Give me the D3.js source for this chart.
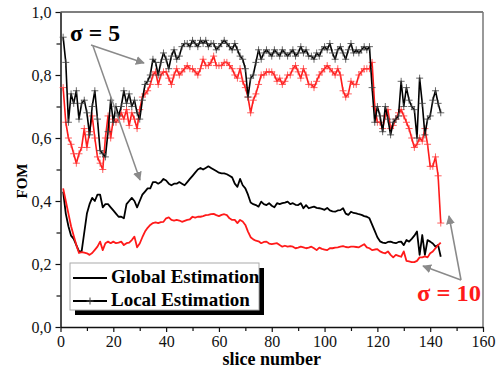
<!DOCTYPE html>
<html><head><meta charset="utf-8">
<script src="https://cdn.jsdelivr.net/npm/d3@7"></script>
<style>
html,body{margin:0;padding:0;background:#fff;}
svg{display:block;}
</style></head>
<body>
<svg id="chart" width="498" height="371"></svg>
<script>
// ---- data ----
const slices = d3.range(1, 145);
const localSigma5 = [0.92,0.84,0.65,0.74,0.71,0.75,0.66,0.71,0.72,0.68,0.61,0.70,0.75,0.66,0.56,0.55,0.54,0.62,0.72,0.65,
0.70,0.67,0.70,0.75,0.71,0.74,0.70,0.72,0.68,0.66,0.72,0.77,0.78,0.80,0.85,0.84,0.80,0.84,0.87,0.85,
0.82,0.86,0.88,0.85,0.86,0.89,0.90,0.90,0.89,0.91,0.90,0.89,0.91,0.90,0.91,0.89,0.90,0.90,0.88,0.89,
0.90,0.91,0.90,0.89,0.88,0.90,0.88,0.86,0.85,0.82,0.73,0.79,0.80,0.84,0.88,0.85,0.87,0.88,0.87,0.86,
0.88,0.87,0.86,0.88,0.87,0.86,0.87,0.88,0.86,0.87,0.89,0.87,0.88,0.86,0.86,0.85,0.87,0.86,0.88,0.89,
0.88,0.90,0.87,0.85,0.88,0.89,0.87,0.85,0.88,0.90,0.87,0.88,0.87,0.88,0.89,0.88,0.89,0.76,0.65,0.70,
0.67,0.62,0.70,0.66,0.61,0.65,0.66,0.67,0.78,0.70,0.76,0.72,0.70,0.69,0.60,0.79,0.71,0.61,0.66,0.67,
0.72,0.75,0.71,0.68];
const localSigma10 = [0.76,0.65,0.60,0.58,0.55,0.52,0.55,0.57,0.63,0.57,0.62,0.67,0.60,0.54,0.52,0.50,0.60,0.67,0.60,0.66,
0.65,0.66,0.68,0.66,0.69,0.64,0.68,0.66,0.63,0.69,0.73,0.74,0.75,0.77,0.80,0.81,0.77,0.80,0.81,0.81,
0.79,0.77,0.80,0.82,0.80,0.81,0.82,0.83,0.82,0.82,0.81,0.80,0.82,0.85,0.83,0.83,0.84,0.86,0.83,0.83,
0.83,0.84,0.84,0.83,0.82,0.80,0.79,0.82,0.78,0.76,0.73,0.68,0.72,0.74,0.77,0.80,0.80,0.81,0.81,0.81,
0.80,0.78,0.79,0.77,0.78,0.80,0.80,0.82,0.83,0.81,0.79,0.82,0.80,0.77,0.77,0.76,0.78,0.80,0.81,0.82,
0.83,0.82,0.81,0.80,0.82,0.80,0.75,0.73,0.74,0.78,0.77,0.77,0.80,0.81,0.82,0.82,0.82,0.84,0.70,0.65,
0.65,0.63,0.67,0.69,0.63,0.64,0.66,0.68,0.69,0.67,0.65,0.63,0.60,0.57,0.58,0.60,0.59,0.63,0.58,0.51,
0.51,0.54,0.48,0.33];
const globalSigma5 = [0.43,0.36,0.32,0.29,0.28,0.26,0.24,0.24,0.30,0.36,0.39,0.41,0.40,0.42,0.42,0.38,0.39,0.39,0.38,0.37,
0.36,0.35,0.35,0.345,0.39,0.40,0.41,0.40,0.38,0.40,0.42,0.43,0.44,0.44,0.46,0.46,0.455,0.46,0.47,0.465,
0.455,0.45,0.455,0.455,0.46,0.455,0.45,0.46,0.47,0.48,0.49,0.50,0.505,0.50,0.505,0.51,0.505,0.50,0.495,0.49,
0.488,0.488,0.485,0.48,0.475,0.455,0.445,0.47,0.45,0.44,0.42,0.395,0.39,0.387,0.382,0.398,0.39,0.387,0.393,0.385,
0.38,0.393,0.39,0.393,0.395,0.398,0.39,0.393,0.388,0.387,0.393,0.377,0.387,0.377,0.38,0.382,0.378,0.377,0.375,0.372,
0.378,0.37,0.367,0.366,0.37,0.371,0.377,0.36,0.356,0.366,0.362,0.361,0.358,0.356,0.352,0.35,0.345,0.325,0.305,0.285,
0.272,0.268,0.266,0.27,0.271,0.268,0.266,0.27,0.271,0.26,0.276,0.271,0.28,0.29,0.303,0.229,0.292,0.229,0.276,0.271,
0.265,0.255,0.26,0.223];
const globalSigma10 = [0.44,0.40,0.36,0.32,0.29,0.26,0.235,0.238,0.236,0.234,0.229,0.235,0.245,0.255,0.271,0.244,0.266,0.271,0.266,0.271,
0.266,0.268,0.271,0.26,0.266,0.268,0.276,0.287,0.253,0.265,0.285,0.303,0.315,0.324,0.33,0.332,0.33,0.333,0.334,0.345,
0.348,0.34,0.338,0.34,0.338,0.334,0.337,0.34,0.342,0.35,0.347,0.35,0.35,0.352,0.355,0.356,0.358,0.359,0.355,0.352,
0.356,0.358,0.355,0.345,0.34,0.34,0.33,0.34,0.335,0.324,0.303,0.285,0.278,0.274,0.272,0.266,0.27,0.271,0.265,0.263,
0.265,0.266,0.26,0.255,0.258,0.255,0.257,0.255,0.25,0.252,0.255,0.253,0.25,0.252,0.255,0.25,0.244,0.252,0.248,0.246,
0.244,0.25,0.25,0.252,0.253,0.255,0.257,0.254,0.253,0.255,0.255,0.254,0.253,0.258,0.263,0.253,0.25,0.244,0.246,0.247,
0.24,0.236,0.234,0.24,0.229,0.221,0.229,0.226,0.223,0.24,0.21,0.208,0.206,0.206,0.21,0.221,0.221,0.224,0.221,0.234,
0.24,0.25,0.26,0.268];
const xTicks = [0,20,40,60,80,100,120,140,160];
const yTicks = [0,0.2,0.4,0.6,0.8,1.0];
const yTickLabels = ["0,0","0,2","0,4","0,6","0,8","1,0"];
const legendLabels = ["Global Estimation","Local Estimation"];
const xTitle = "slice number";
const yTitle = "FOM";
const note5 = "σ = 5";
const note10 = "σ = 10";

// ---- drawing ----
(function(){
const svg = d3.select("#chart");
const W = 498, H = 371;
const pL = 60.5, pR = 483, pT = 12, pB = 327;
const x = d3.scaleLinear().domain([0,160]).range([pL,pR]);
const y = d3.scaleLinear().domain([0,1]).range([pB,pT]);
const serif = "'Liberation Serif','DejaVu Serif',serif";

svg.append("rect").attr("width",W).attr("height",H).attr("fill","#fff");

// frame top/right
svg.append("line").attr("x1",pL).attr("x2",pR).attr("y1",pT).attr("y2",pT)
  .attr("stroke","#555").attr("stroke-width",1.5);
svg.append("line").attr("x1",pR).attr("x2",pR).attr("y1",pT).attr("y2",pB)
  .attr("stroke","#777").attr("stroke-width",1.5);

// axes
const yAxis = d3.axisLeft(y).tickValues(yTicks).tickFormat((d,i)=>yTickLabels[i]).tickSize(5).tickPadding(4).tickSizeOuter(0);
svg.append("g").attr("transform",`translate(${pL},0)`).call(yAxis);
const yMinor = d3.axisLeft(y).tickValues([0.1,0.3,0.5,0.7,0.9]).tickFormat("").tickSize(4).tickSizeOuter(0);
svg.append("g").attr("transform",`translate(${pL},0)`).call(yMinor).select(".domain").remove();

const xAxis = d3.axisBottom(x).tickValues(xTicks).tickSize(5).tickPadding(4).tickSizeOuter(0);
svg.append("g").attr("transform",`translate(0,${pB})`).call(xAxis);
const xMinor = d3.axisBottom(x).tickValues([10,30,50,70,90,110,130,150]).tickFormat("").tickSize(4).tickSizeOuter(0);
svg.append("g").attr("transform",`translate(0,${pB})`).call(xMinor).select(".domain").remove();

svg.selectAll(".domain").attr("stroke","#111").attr("stroke-width",1.5);
svg.selectAll(".tick line").attr("stroke","#111").attr("stroke-width",1.2);
svg.selectAll(".tick text").attr("font-family",serif).attr("font-size",16).attr("fill","#111");

// titles
svg.append("text").attr("x",(pL+pR)/2).attr("y",365).attr("text-anchor","middle")
  .attr("font-family",serif).attr("font-weight","bold").attr("font-size",18).text(xTitle);
svg.append("text").attr("transform","translate(27,181) rotate(-90)").attr("text-anchor","middle")
  .attr("font-family",serif).attr("font-weight","bold").attr("font-size",15).text(yTitle);

// series
const line = d3.line().x((d,i)=>x(slices[i])).y(d=>y(d));
function plain(data,color){
  svg.append("path").datum(data).attr("d",line).attr("fill","none")
    .attr("stroke",color).attr("stroke-width",1.8).attr("stroke-linejoin","round");
}
function marked(data,color,mcolor){
  svg.append("path").datum(data).attr("d",line).attr("fill","none")
    .attr("stroke",color).attr("stroke-width",1.6).attr("stroke-linejoin","round");
  svg.append("g").selectAll("path").data(data).join("path")
    .attr("d",(d,i)=>`M${x(slices[i])-3.5},${y(d)}h7M${x(slices[i])},${y(d)-3.5}v7`)
    .attr("stroke",mcolor).attr("stroke-width",1).attr("opacity",0.8);
}
plain(globalSigma5,"#000");
plain(globalSigma10,"#ff1a1a");
marked(localSigma10,"#ff1a1a","#ff3b3b");
marked(localSigma5,"#000","#444");

// arrow marker
const defs = svg.append("defs");
defs.append("marker").attr("id","ah").attr("viewBox","0 0 10 10").attr("refX",9).attr("refY",5)
  .attr("markerWidth",9).attr("markerHeight",9).attr("markerUnits","userSpaceOnUse").attr("orient","auto")
  .append("path").attr("d","M0,0L10,5L0,10z").attr("fill","#8a8a8a");
function arrow(x1,y1,x2,y2){
  svg.append("line").attr("x1",x1).attr("y1",y1).attr("x2",x2).attr("y2",y2)
    .attr("stroke","#8a8a8a").attr("stroke-width",1.5).attr("marker-end","url(#ah)");
}
arrow(91,45,144,63);
arrow(93,46,140,180);
arrow(461,280,423,266);
arrow(461,280,449,216);

svg.append("text").attr("x",70).attr("y",41).attr("font-family",serif).attr("font-weight","bold")
  .attr("font-size",24).attr("fill","#000").attr("textLength",50).attr("lengthAdjust","spacingAndGlyphs").text(note5);
svg.append("text").attr("x",417).attr("y",301).attr("font-family",serif).attr("font-weight","bold")
  .attr("font-size",23).attr("fill","#ff1a1a").attr("textLength",64).attr("lengthAdjust","spacingAndGlyphs").text(note10);

// legend
const lg = svg.append("g");
lg.append("rect").attr("x",75).attr("y",268).attr("width",189).attr("height",47).attr("fill","#000");
lg.append("rect").attr("x",70).attr("y",263).attr("width",189).attr("height",47).attr("fill","#fff")
  .attr("stroke","#aaa").attr("stroke-width",1);
legendLabels.forEach((lab,i)=>{
  const yy = 278 + i*23;
  lg.append("line").attr("x1",73).attr("x2",107).attr("y1",yy).attr("y2",yy).attr("stroke","#000").attr("stroke-width",1.8);
  if(i===1){
    lg.append("path").attr("d",`M86.5,${yy}h7M90,${yy-3.5}v7`).attr("stroke","#444").attr("stroke-width",1);
  }
  lg.append("text").attr("x",111).attr("y",yy+5).attr("font-family",serif).attr("font-weight","bold")
    .attr("font-size",19).attr("fill","#000").text(lab);
});
})();
</script>
</body></html>
